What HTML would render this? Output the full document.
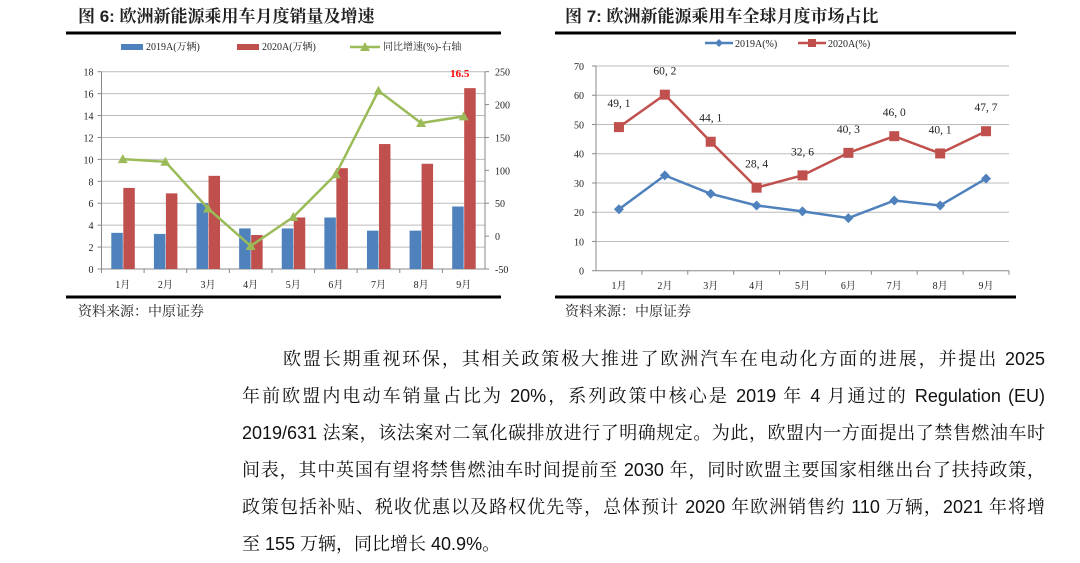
<!DOCTYPE html>
<html><head><meta charset="utf-8">
<style>
body{margin:0;width:1080px;height:563px;background:#fff;overflow:hidden;position:relative;font-family:"Liberation Sans","Noto Serif CJK SC",serif;}
.p{position:absolute;left:242px;width:803px;font-size:18px;color:#111;line-height:37px;white-space:nowrap;}
.j{text-align:justify;text-align-last:justify;white-space:normal}
</style></head><body>
<svg id="s" width="1080" height="330" style="position:absolute;left:0;top:0" font-family="'Liberation Serif','Noto Serif CJK SC',serif"></svg>
<div class="p j" style="top:341px;left:283px;width:762px">欧盟长期重视环保，其相关政策极大推进了欧洲汽车在电动化方面的进展，并提出 2025</div>
<div class="p j" style="top:378px">年前欧盟内电动车销量占比为 20%，系列政策中核心是 2019 年 4 月通过的 Regulation (EU)</div>
<div class="p j" style="top:415px">2019/631 法案，该法案对二氧化碳排放进行了明确规定。为此，欧盟内一方面提出了禁售燃油车时</div>
<div class="p j" style="top:452px">间表，其中英国有望将禁售燃油车时间提前至 2030 年，同时欧盟主要国家相继出台了扶持政策，</div>
<div class="p j" style="top:489px">政策包括补贴、税收优惠以及路权优先等，总体预计 2020 年欧洲销售约 110 万辆，2021 年将增</div>
<div class="p" style="top:526px">至 155 万辆，同比增长 40.9%。</div>
<script>
var s='';
function t(x,y,str,o){o=o||{};s+='<text x="'+x+'" y="'+y+'" font-size="'+(o.fs||10)+'" fill="'+(o.c||'#222')+'" text-anchor="'+(o.a||'middle')+'"'+(o.w?' font-weight="bold"':'')+(o.f?' font-family="'+o.f+'"':'')+'>'+str+'</text>';}
function l(x1,y1,x2,y2,c,w){s+='<line x1="'+x1+'" y1="'+y1+'" x2="'+x2+'" y2="'+y2+'" stroke="'+c+'" stroke-width="'+w+'"/>';}
var sans="'Liberation Sans','Noto Serif CJK SC',serif";
t(78,22,'图 6: 欧洲新能源乘用车月度销量及增速',{fs:17,a:'start',w:1,f:sans});
t(565,22,'图 7: 欧洲新能源乘用车全球月度市场占比',{fs:17,a:'start',w:1,f:sans});
l(66,33,501,33,'#000',3);l(66,297,501,297,'#000',3);
l(555,33,1016,33,'#000',3);l(555,297,1016,297,'#000',3);
t(78,316,'资料来源：中原证券',{fs:14,a:'start'});
t(565,316,'资料来源：中原证券',{fs:14,a:'start'});
var X0=101.5,X1=485,Y0=269,Y1=71.7,cw=(X1-X0)/9;
function ly(v){return Y0-(Y0-Y1)*v/18;}
function ry(v){return Y0-(Y0-Y1)*(v+50)/300;}
for(var i=0;i<=9;i++){var v=i*2,y=ly(v);if(i>0)l(X0,y,X1,y,'#bbb',1);t(X0-8,y+4,v,{a:'end'});l(X0-4,y,X0,y,'#888',1);}
for(var v=-50;v<=250;v+=50){var y=ry(v);t(X1+10,y+4,v,{a:'start'});l(X1,y,X1+4,y,'#888',1);}
l(X0,Y1,X0,Y0,'#888',1);l(X1,Y1,X1,Y0,'#888',1);l(X0,Y0,X1,Y0,'#888',1);
var b=[3.3,3.2,6.0,3.7,3.7,4.7,3.5,3.5,5.7],r=[7.4,6.9,8.5,3.1,4.7,9.2,11.4,9.6,16.5],g=[117,113,42,-15,29,94,221,172,182];
var pts=[];
for(var i=0;i<9;i++){var cx=X0+cw*(i+.5);
s+='<rect x="'+(cx-11.5)+'" y="'+ly(b[i])+'" width="11.5" height="'+(Y0-ly(b[i]))+'" fill="#4f81bd"/>';
s+='<rect x="'+(cx+.5)+'" y="'+ly(r[i])+'" width="11.5" height="'+(Y0-ly(r[i]))+'" fill="#c0504d"/>';
pts.push(cx+','+ry(g[i]));t(cx,288,(i+1)+'月');l(X0+cw*i,Y0,X0+cw*i,Y0+4,'#888',1);}
s+='<polyline points="'+pts.join(' ')+'" fill="none" stroke="#9bbb59" stroke-width="2.5"/>';
pts.forEach(function(p){var a=p.split(',');var x=+a[0],y=+a[1];s+='<polygon points="'+x+','+(y-5)+' '+(x-5)+','+(y+4)+' '+(x+5)+','+(y+4)+'" fill="#9bbb59"/>';});
t(X0+cw*8.5-4,77,'16.5',{c:'#f00',w:1,fs:11});
s+='<rect x="121" y="44" width="22" height="6" fill="#4f81bd"/>';t(146,50,'2019A(万辆)',{a:'start'});
s+='<rect x="237" y="44" width="22" height="6" fill="#c0504d"/>';t(262,50,'2020A(万辆)',{a:'start'});
l(350,47,380,47,'#9bbb59',2.5);s+='<polygon points="365,42 360,51 370,51" fill="#9bbb59"/>';t(383,50,'同比增速(%)-右轴',{a:'start'});
var A0=596,A1=1009,B0=270.7,B1=66,dw=(A1-A0)/9;
function y2(v){return B0-(B0-B1)*v/70;}
for(var v=0;v<=70;v+=10){var y=y2(v);if(v>0)l(A0,y,A1,y,'#bbb',1);t(A0-12,y+4,v,{a:'end'});l(A0-4,y,A0,y,'#888',1);}
l(A0,B1,A0,B0,'#888',1);l(A0,B0,A1,B0,'#888',1);
var c19=[21,32.6,26.3,22.3,20.3,18,24,22.3,31.5],c20=[49.1,60.2,44.1,28.4,32.6,40.3,46.0,40.1,47.7];
var p1=[],p2=[];
for(var i=0;i<9;i++){var cx=A0+dw*(i+.5);p1.push(cx+','+y2(c19[i]));p2.push(cx+','+y2(c20[i]));t(cx,289,(i+1)+'月');l(A0+dw*(i+1),B0,A0+dw*(i+1),B0+4,'#888',1);
t(cx,y2(c20[i])-20,c20[i].toFixed(1).replace('.',', '),{fs:11.5});}
s+='<polyline points="'+p1.join(' ')+'" fill="none" stroke="#4f81bd" stroke-width="2.5"/>';
s+='<polyline points="'+p2.join(' ')+'" fill="none" stroke="#c0504d" stroke-width="2.5"/>';
p1.forEach(function(p){var a=p.split(',');var x=+a[0],y=+a[1];s+='<polygon points="'+x+','+(y-5)+' '+(x+5)+','+y+' '+x+','+(y+5)+' '+(x-5)+','+y+'" fill="#4f81bd"/>';});
p2.forEach(function(p){var a=p.split(',');var x=+a[0],y=+a[1];s+='<rect x="'+(x-5)+'" y="'+(y-5)+'" width="10" height="10" fill="#c0504d"/>';});
l(705,43,733,43,'#4f81bd',2.5);s+='<polygon points="719,39 723,43 719,47 715,43" fill="#4f81bd"/>';t(735,47,'2019A(%)',{a:'start'});
l(798,43,826,43,'#c0504d',2.5);s+='<rect x="808" y="39" width="8" height="8" fill="#c0504d"/>';t(828,47,'2020A(%)',{a:'start'});
document.getElementById('s').innerHTML=s;
</script>
</body></html>
